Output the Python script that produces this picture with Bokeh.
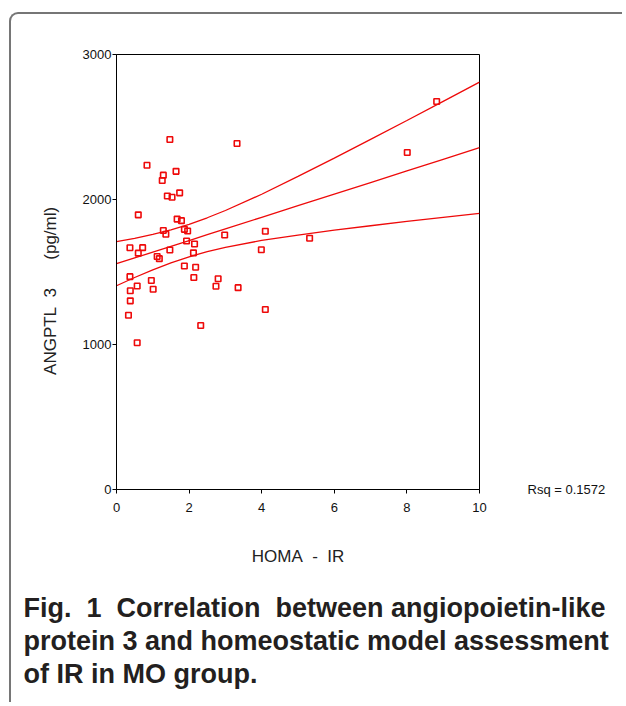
from bokeh.plotting import figure
from bokeh.models import Range1d, FixedTicker, LinearAxis, Title
from bokeh.embed import file_html
from bokeh.resources import INLINE

# ---- data ----
homa_ir = [1.47, 3.32, 0.84, 1.64, 1.29, 1.26, 1.74, 1.40, 1.53, 0.60,
           1.67, 1.79, 1.29, 1.36, 1.87, 1.96, 2.98, 1.93, 2.15, 0.37,
           0.72, 1.47, 0.60, 2.12, 1.12, 1.18, 1.87, 2.18, 0.37, 0.57,
           0.96, 1.01, 2.13, 2.80, 2.74, 3.35, 0.38, 0.38, 0.33, 2.32,
           0.57, 8.01, 4.10, 5.32, 3.99, 4.10, 8.82]
angptl3 = [2414, 2386, 2236, 2194, 2168, 2131, 2046, 2024, 2016, 1894,
           1865, 1854, 1786, 1760, 1794, 1783, 1755, 1714, 1693, 1667,
           1668, 1652, 1630, 1632, 1607, 1592, 1541, 1533, 1468, 1403,
           1441, 1381, 1462, 1453, 1402, 1392, 1371, 1301, 1202, 1131,
           1012, 2324, 1781, 1733, 1653, 1241, 2676]

band_x = [0, 0.5, 1, 1.5, 2, 2.5, 3, 4, 5, 6, 7, 8, 9, 10]
fit_line = [1557, 1597, 1637, 1677, 1717, 1757, 1797, 1877, 1957, 2037, 2117, 2197, 2277, 2357]
upper_ci = [1709, 1732, 1759, 1791, 1829, 1874, 1924, 2036, 2159, 2285, 2415, 2545, 2677, 2809]
lower_ci = [1405, 1462, 1515, 1563, 1605, 1640, 1670, 1718, 1755, 1789, 1819, 1849, 1877, 1905]

x_ticks = [0, 2, 4, 6, 8, 10]
y_ticks = [0, 1000, 2000, 3000]
NB = "\u00a0"
x_title = "HOMA" + NB * 2 + "-" + NB * 2 + "IR"
y_title = "ANGPTL" + NB * 2 + "3" + NB * 6 + "(pg/ml)" + NB * 8
rsq_text = "Rsq = 0.1572"
caption_lines = [
    "Fig." + NB * 2 + "1" + NB * 2 + "Correlation" + NB * 2 + "between" + NB + "angiopoietin-like",
    "protein 3 and homeostatic model assessment",
    "of IR in MO group.",
]

# ---- layout ----
OX, OY = 11, 14                      # canvas origin on the page (margin + border)
W, H = 613, 690
FL, FR, FT, FB = 116, 479, 54, 489   # frame edges in page px
RED = "#ee0a0a"
FONT = "Liberation Sans"

p = figure(width=W, height=H, x_range=Range1d(0, 10), y_range=Range1d(0, 3000),
           output_backend="svg", toolbar_location=None,
           min_border_left=FL - OX, min_border_right=W - (FR - OX),
           min_border_top=FT - OY, min_border_bottom=H - (FB - OY))
p.styles = {"margin-left": "9px", "margin-top": "12px",
            "border-left": "2px solid #767676", "border-top": "2px solid #767676",
            "border-top-left-radius": "9px"}
p.grid.visible = False
p.outline_line_color = "black"
p.outline_line_width = 1
p.background_fill_color = "white"
p.border_fill_color = None

for ax, ticks in ((p.xaxis, x_ticks), (p.yaxis, y_ticks)):
    ax.ticker = FixedTicker(ticks=ticks)
    ax.minor_tick_line_color = None
    ax.major_tick_in = 0
    ax.major_tick_out = 4
    ax.axis_line_color = "black"
    ax.major_tick_line_color = "black"
    ax.major_label_text_font = FONT
    ax.major_label_text_font_size = "13px"
    ax.major_label_text_color = "#111111"
    ax.axis_label_text_font = FONT
    ax.axis_label_text_font_size = "17px"
    ax.axis_label_text_font_style = "normal"
    ax.axis_label_text_color = "#222222"
p.xaxis.major_label_standoff = 9
p.yaxis.major_label_standoff = 1
p.xaxis.axis_label = x_title
p.xaxis.axis_label_standoff = 32
p.yaxis.axis_label = y_title
p.yaxis.axis_label_standoff = 20

# Rsq note at the right of the frame, level with y = 0
rsq_axis = LinearAxis(ticker=FixedTicker(ticks=[0]), major_label_overrides={0: rsq_text},
                      axis_line_color=None, major_tick_line_color=None,
                      minor_tick_line_color=None, major_tick_in=0, major_tick_out=0,
                      major_label_standoff=48, major_label_text_font=FONT,
                      major_label_text_font_size="13px", major_label_text_color="#111111",
                      major_label_text_baseline="bottom")
p.add_layout(rsq_axis, "right")

# regression line and 95% band
p.line(band_x, fit_line, line_color=RED, line_width=1.3)
p.line(band_x, upper_ci, line_color=RED, line_width=1.3)
p.line(band_x, lower_ci, line_color=RED, line_width=1.3)

p.scatter(homa_ir, angptl3, marker="square", size=5.5, fill_color=None,
          line_color=RED, line_width=1.6)

# spacer between axis title and caption
p.add_layout(Title(text=NB, text_font_size="1px", standoff=19), "below")
# caption (three lines below the chart)
for txt in caption_lines:
    p.add_layout(Title(text=txt, align="left", offset=23 - FL, standoff=1,
                       text_font=FONT, text_font_size="27px", text_font_style="bold",
                       text_color="#231f20"), "below")

open("out.html", "w").write(file_html(p, INLINE))
